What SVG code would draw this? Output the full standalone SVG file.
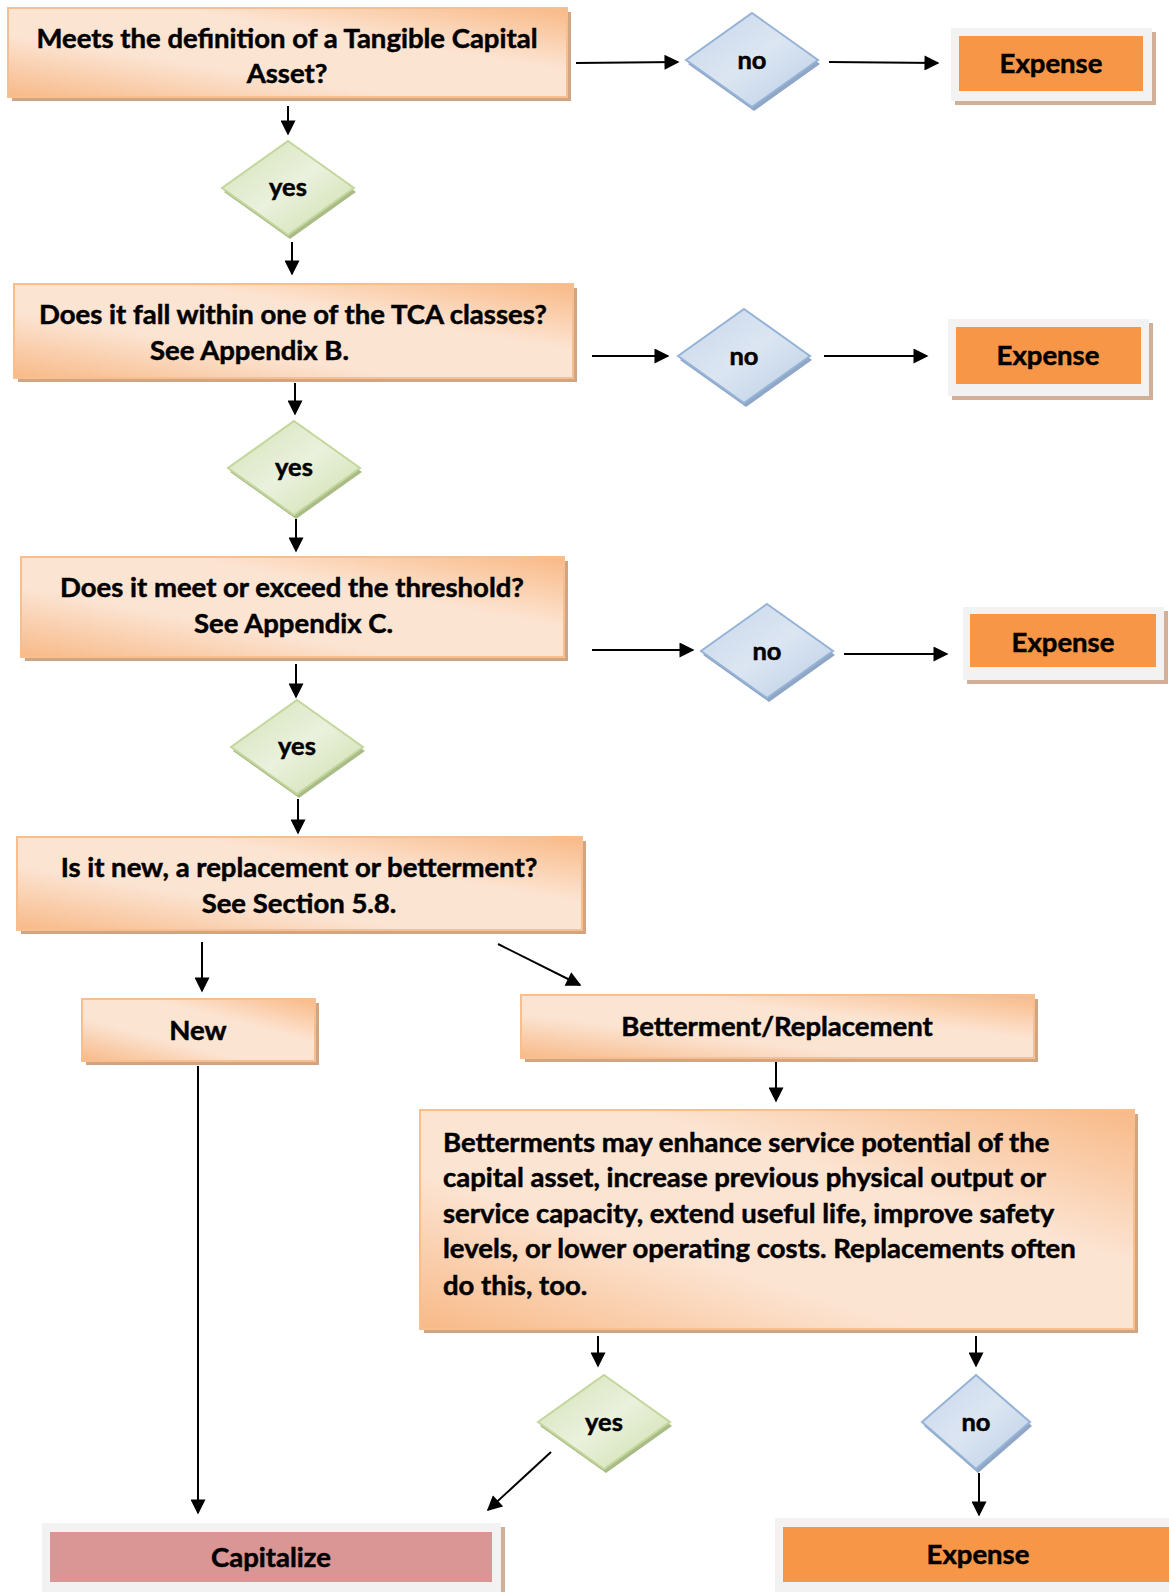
<svg xmlns="http://www.w3.org/2000/svg" width="1169" height="1592" viewBox="0 0 1169 1592">
<style>
text{font-family:Lato,"Liberation Sans",sans-serif;font-weight:bold;fill:#000;stroke:#000;stroke-width:0.5;}
.t{font-size:27.5px;text-anchor:middle;}
.ts{font-size:27.5px;}
.d{font-size:25.5px;text-anchor:middle;}
.box{fill:url(#peach);stroke:#f9be8e;stroke-width:2;}
.sh{fill:#cfa584;}
.yes{fill:url(#green);stroke:#c3d69b;stroke-width:2;}
.ysh{fill:#a9bb86;}
.no{fill:url(#blue);stroke:#95b3d7;stroke-width:2;}
.nsh{fill:#8fa6c4;}
.frame{fill:#f2f2f2;}
.fsh{fill:#d2b097;}
.exp{fill:#f79646;}
.cap{fill:#d99694;}
.c line{stroke:#000;stroke-width:2;marker-end:url(#ah);}
</style>
<defs>
<linearGradient id="peach" x1="0" y1="1" x2="1" y2="0">
<stop offset="0" stop-color="#f8b987"/>
<stop offset="0.35" stop-color="#fce4d2"/>
<stop offset="0.65" stop-color="#fce4d2"/>
<stop offset="1" stop-color="#f8b987"/>
</linearGradient>
<linearGradient id="green" x1="0" y1="0" x2="1" y2="1">
<stop offset="0" stop-color="#d3e2b5"/>
<stop offset="0.5" stop-color="#eaf1dd"/>
<stop offset="1" stop-color="#cddeaa"/>
</linearGradient>
<linearGradient id="blue" x1="0" y1="0" x2="1" y2="1">
<stop offset="0" stop-color="#c7d6ea"/>
<stop offset="0.5" stop-color="#dce6f2"/>
<stop offset="1" stop-color="#b9cde5"/>
</linearGradient>
<marker id="ah" viewBox="0 0 10 10" refX="9" refY="5" markerWidth="8" markerHeight="7.5" orient="auto" markerUnits="strokeWidth">
<path d="M0,0 L10,5 L0,10 z" fill="#000"/>
</marker>
</defs>

<g id="q1">
<rect class="sh" x="12" y="12" width="559" height="89"/>
<rect class="box" x="8" y="8" width="559" height="89"/>
<text class="t" x="287" y="48">Meets the definition of a Tangible Capital</text>
<text class="t" x="287" y="83">Asset?</text>
</g>
<g id="no1">
<polygon class="nsh" points="754,16 820,64 754,111 688,64"/>
<polygon class="no" points="752,13 818,60 752,107 686,60"/>
<text class="d" x="752" y="69">no</text>
</g>
<g id="exp1">
<rect class="fsh" x="955" y="32" width="201" height="73"/>
<rect class="frame" x="951" y="28" width="201" height="73"/>
<rect class="exp" x="959" y="36" width="184" height="55"/>
<text class="t" x="1051" y="73">Expense</text>
</g>
<g id="yes1">
<polygon class="ysh" points="290,144 356,192 290,239 224,192"/>
<polygon class="yes" points="288,141 354,188 288,235 222,188"/>
<text class="d" x="288" y="196">yes</text>
</g>

<g id="q2">
<rect class="sh" x="18" y="288" width="559" height="94"/>
<rect class="box" x="14" y="284" width="559" height="94"/>
<text class="t" x="293" y="324">Does it fall within one of the TCA classes?</text>
<text class="ts" x="150" y="360">See Appendix B.</text>
</g>
<g id="no2">
<polygon class="nsh" points="746,312 812,360 746,407 680,360"/>
<polygon class="no" points="744,309 810,356 744,403 678,356"/>
<text class="d" x="744" y="365">no</text>
</g>
<g id="exp2">
<rect class="fsh" x="952" y="323" width="201" height="77"/>
<rect class="frame" x="948" y="319" width="201" height="77"/>
<rect class="exp" x="956" y="327" width="185" height="57"/>
<text class="t" x="1048" y="365">Expense</text>
</g>
<g id="yes2">
<polygon class="ysh" points="296,424 362,472 296,519 230,472"/>
<polygon class="yes" points="294,421 360,468 294,515 228,468"/>
<text class="d" x="294" y="476">yes</text>
</g>

<g id="q3">
<rect class="sh" x="25" y="561" width="543" height="100"/>
<rect class="box" x="21" y="557" width="543" height="100"/>
<text class="t" x="292" y="597">Does it meet or exceed the threshold?</text>
<text class="ts" x="194" y="633">See Appendix C.</text>
</g>
<g id="no3">
<polygon class="nsh" points="769,607 835,655 769,702 703,655"/>
<polygon class="no" points="767,604 833,651 767,698 701,651"/>
<text class="d" x="767" y="660">no</text>
</g>
<g id="exp3">
<rect class="fsh" x="967" y="611" width="201" height="73"/>
<rect class="frame" x="963" y="607" width="201" height="73"/>
<rect class="exp" x="970" y="614" width="186" height="53"/>
<text class="t" x="1063" y="652">Expense</text>
</g>
<g id="yes3">
<polygon class="ysh" points="299,703 365,751 299,798 233,751"/>
<polygon class="yes" points="297,700 363,747 297,794 231,747"/>
<text class="d" x="297" y="755">yes</text>
</g>

<g id="q4">
<rect class="sh" x="21" y="841" width="565" height="93"/>
<rect class="box" x="17" y="837" width="565" height="93"/>
<text class="t" x="299" y="877">Is it new, a replacement or betterment?</text>
<text class="t" x="299" y="913">See Section 5.8.</text>
</g>
<g id="new">
<rect class="sh" x="86" y="1003" width="233" height="62"/>
<rect class="box" x="82" y="999" width="233" height="62"/>
<text class="t" x="198" y="1040">New</text>
</g>
<g id="betrep">
<rect class="sh" x="525" y="999" width="513" height="63"/>
<rect class="box" x="521" y="995" width="513" height="63"/>
<text class="t" x="777" y="1036">Betterment/Replacement</text>
</g>
<g id="desc">
<rect class="sh" x="424" y="1114" width="714" height="219"/>
<rect class="box" x="420" y="1110" width="714" height="219"/>
<text class="ts" x="443" y="1152">Betterments may enhance service potential of the</text>
<text class="ts" x="443" y="1187">capital asset, increase previous physical output or</text>
<text class="ts" x="443" y="1223">service capacity, extend useful life, improve safety</text>
<text class="ts" x="443" y="1258">levels, or lower operating costs. Replacements often</text>
<text class="ts" x="443" y="1295">do this, too.</text>
</g>
<g id="yes4">
<polygon class="ysh" points="606,1378 672,1426 606,1473 540,1426"/>
<polygon class="yes" points="604,1375 670,1422 604,1469 538,1422"/>
<text class="d" x="604" y="1431">yes</text>
</g>
<g id="no4">
<polygon class="nsh" points="978,1378 1032,1426 978,1473 924,1426"/>
<polygon class="no" points="976,1375 1030,1422 976,1469 922,1422"/>
<text class="d" x="976" y="1431">no</text>
</g>
<g id="capitalize">
<rect class="fsh" x="46" y="1527" width="459" height="70"/>
<rect class="frame" x="42" y="1523" width="459" height="70"/>
<rect class="cap" x="50" y="1532" width="442" height="50"/>
<text class="t" x="271" y="1567">Capitalize</text>
</g>
<g id="exp4">
<rect class="frame" x="775" y="1518" width="394" height="74"/>
<rect class="exp" x="783" y="1527" width="386" height="55"/>
<text class="t" x="978" y="1564">Expense</text>
</g>

<g class="c" id="connectors">
<line x1="576" y1="63" x2="678" y2="62"/>
<line x1="829" y1="62" x2="938" y2="63"/>
<line x1="288" y1="106" x2="288" y2="134"/>
<line x1="292" y1="242" x2="292" y2="274"/>
<line x1="592" y1="356" x2="668" y2="356"/>
<line x1="824" y1="356" x2="927" y2="356"/>
<line x1="295" y1="383" x2="295" y2="414"/>
<line x1="296" y1="519" x2="296" y2="551"/>
<line x1="592" y1="650" x2="693" y2="650"/>
<line x1="844" y1="654" x2="947" y2="654"/>
<line x1="296" y1="664" x2="296" y2="697"/>
<line x1="298" y1="799" x2="298" y2="833"/>
<line x1="202" y1="942" x2="202" y2="991"/>
<line x1="498" y1="944" x2="580" y2="985"/>
<line x1="776" y1="1062" x2="776" y2="1101"/>
<line x1="198" y1="1066" x2="198" y2="1513"/>
<line x1="598" y1="1336" x2="598" y2="1366"/>
<line x1="551" y1="1452" x2="488" y2="1510"/>
<line x1="976" y1="1336" x2="976" y2="1366"/>
<line x1="979" y1="1473" x2="979" y2="1515"/>
</g>
</svg>
